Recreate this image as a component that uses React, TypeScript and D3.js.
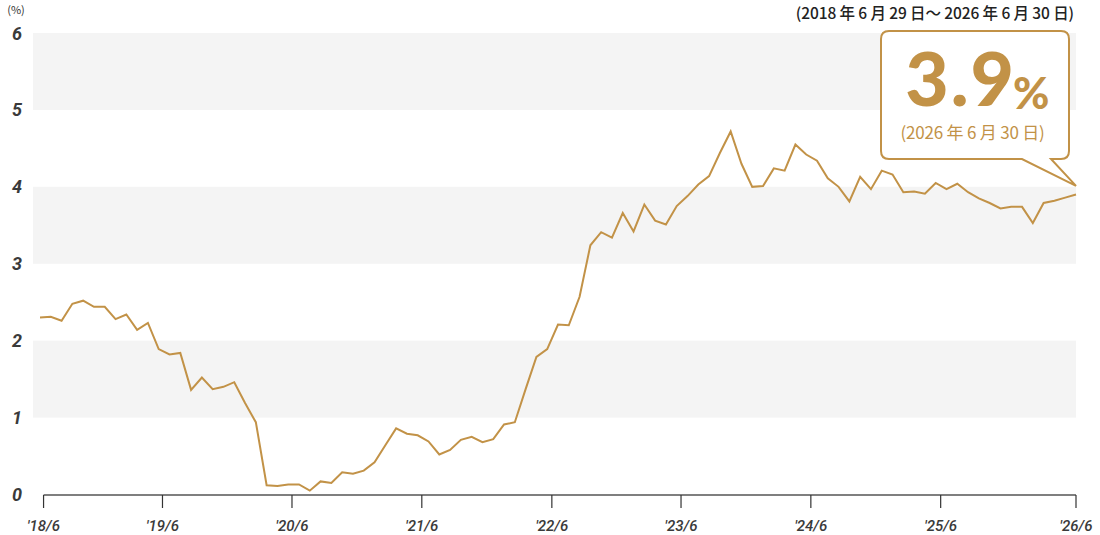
import React from "react";
import * as d3 from "d3";

const values: number[] = [
  2.30, 2.31, 2.26, 2.48, 2.52, 2.44, 2.44, 2.28, 2.34, 2.14,
  2.23, 1.89, 1.82, 1.84, 1.36, 1.52, 1.37, 1.40, 1.46, 1.19,
  0.94, 0.12, 0.11, 0.13, 0.13, 0.05, 0.17, 0.15, 0.29, 0.27,
  0.31, 0.42, 0.64, 0.86, 0.79, 0.77, 0.69, 0.52, 0.58, 0.71,
  0.75, 0.68, 0.72, 0.91, 0.94, 1.37, 1.79, 1.89, 2.21, 2.20,
  2.57, 3.24, 3.41, 3.34, 3.66, 3.42, 3.77, 3.56, 3.51, 3.75,
  3.88, 4.03, 4.14, 4.44, 4.72, 4.30, 4.00, 4.01, 4.24, 4.21,
  4.55, 4.42, 4.34, 4.11, 4.00, 3.81, 4.13, 3.97, 4.21, 4.16,
  3.93, 3.94, 3.91, 4.05, 3.97, 4.04, 3.93, 3.85, 3.79, 3.72,
  3.74, 3.74, 3.53, 3.79, 3.82, 3.86, 3.90,
];

const xTickMonths: number[] = [0.33, 11.35, 23.35, 35.38, 47.43, 59.4, 71.43, 83.46, 96];
const xTickLabels: string[] = ["'18/6", "'19/6", "'20/6", "'21/6", "'22/6", "'23/6", "'24/6", "'25/6", "'26/6"];
const yTicks: number[] = [0, 1, 2, 3, 4, 5, 6];
const bandStarts: number[] = [1, 3, 5];

const periodLabel = "(2018 年 6 月 29 日〜 2026 年 6 月 30 日)";
const unitLabel = "(%)";
const latestValue = "3.9";
const latestDate = "(2026 年 6 月 30 日)";

const W = 1100;
const H = 535;
const GOLD = "#C29247";

export default function App() {
  const x = d3.scaleLinear().domain([0, values.length - 1]).range([40, 1076]);
  const y = d3.scaleLinear().domain([0, 6]).range([494.5, 33]);
  const line = d3
    .line<number>()
    .x((_, i) => x(i))
    .y((d) => y(d));

  const axisY = 495;
  const bandX0 = 33;
  const bandX1 = 1076;

  // callout box
  const bx0 = 881, bx1 = 1069, by0 = 31, by1 = 159, r = 8;
  const gapL = 1022, gapR = 1051;
  const tipX = x(values.length - 1);
  const tipY = y(4) - 1;
  const calloutPath = [
    `M${bx0 + r},${by0}`,
    `H${bx1 - r}`,
    `Q${bx1},${by0} ${bx1},${by0 + r}`,
    `V${by1 - r}`,
    `Q${bx1},${by1} ${bx1 - r},${by1}`,
    `H${gapR}`,
    `L${tipX},${tipY}`,
    `L${gapL},${by1}`,
    `H${bx0 + r}`,
    `Q${bx0},${by1} ${bx0},${by1 - r}`,
    `V${by0 + r}`,
    `Q${bx0},${by0} ${bx0 + r},${by0}`,
    "Z",
  ].join(" ");

  return (
    <div style={{ position: "fixed", left: 0, top: 0 }}>
      <svg width={W} height={H} style={{ display: "block" }}>
        <rect x={0} y={0} width={W} height={H} fill="#fff" />
        {bandStarts.map((b) => (
          <rect
            key={b}
            x={bandX0}
            y={y(b + 1)}
            width={bandX1 - bandX0}
            height={y(b) - y(b + 1)}
            fill="#f4f4f4"
          />
        ))}
        {yTicks.map((t) => (
          <text
            key={t}
            x={17}
            y={y(t) + 6.5}
            textAnchor="middle"
            fontFamily="Roboto, 'Noto Sans', sans-serif"
            fontStyle="italic"
            fontWeight={700}
            fontSize={18}
            fill="#3a3a3a"
          >
            {t}
          </text>
        ))}
        <text
          x={16}
          y={14}
          textAnchor="middle"
          fontFamily="'Noto Sans CJK JP', sans-serif"
          fontSize={11}
          fill="#333"
        >
          {unitLabel}
        </text>
        <text
          x={1074}
          y={18.5}
          textAnchor="end"
          fontFamily="'Noto Sans CJK JP', sans-serif"
          fontWeight={500}
          fontSize={15.5}
          fill="#222"
          letterSpacing={-0.1}
        >
          {periodLabel}
        </text>

        <line x1={x(xTickMonths[0])} x2={bandX1} y1={axisY} y2={axisY} stroke="#555" strokeWidth={1.5} />
        {xTickMonths.map((m, i) => (
          <g key={i}>
            <line x1={x(m)} x2={x(m)} y1={axisY} y2={axisY + 13} stroke="#333" strokeWidth={1.2} />
            <text
              x={x(m)}
              y={531}
              textAnchor="middle"
              fontFamily="Roboto, 'Noto Sans', sans-serif"
              fontStyle="italic"
              fontWeight={500}
              fontSize={15}
              fill="#3a3a3a"
            >
              {xTickLabels[i]}
            </text>
          </g>
        ))}

        <path d={line(values) || ""} fill="none" stroke={GOLD} strokeWidth={2} strokeLinejoin="miter" />

        <path d={calloutPath} fill="#fff" stroke={GOLD} strokeWidth={2} strokeLinejoin="miter" />
        <text
          x={1016}
          y={106}
          textAnchor="end"
          fontFamily="Lato, 'Noto Sans', sans-serif"
          fontWeight={900}
          fontSize={75}
          fill={GOLD}
          letterSpacing={2}
        >
          {latestValue}
        </text>
        <text
          x={1013}
          y={109}
          textAnchor="start"
          fontFamily="Lato, 'Noto Sans', sans-serif"
          fontWeight={900}
          fontSize={44}
          fill={GOLD}
        >
          %
        </text>
        <text
          x={972.5}
          y={139}
          textAnchor="middle"
          fontFamily="'Noto Sans CJK JP', sans-serif"
          fontWeight={400}
          fontSize={17}
          fill={GOLD}
          letterSpacing={-0.2}
        >
          {latestDate}
        </text>
      </svg>
    </div>
  );
}
